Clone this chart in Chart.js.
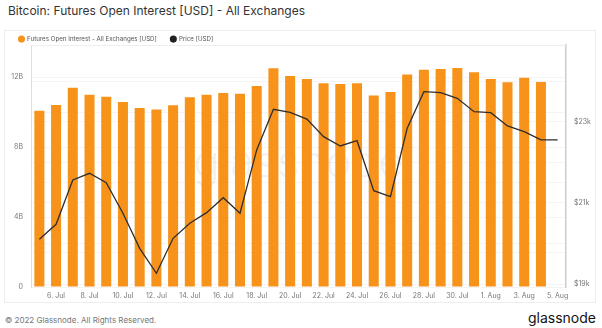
<!DOCTYPE html>
<html>
<head>
<meta charset="utf-8">
<script src="https://cdn.jsdelivr.net/npm/chart.js@4"></script>
<style>
    body { margin: 0; width: 602px; height: 328px; background: #fff; font-family: Inter, "Open Sans", sans-serif; position: relative; overflow: hidden; }
    #title { position: absolute; left: 8px; top: 3px; font-size: 12px; line-height: 16px; color: #333; }
    #box { position: absolute; left: 4px; top: 30px; width: 592px; height: 273px; box-sizing: border-box; border: 1px solid #eeeeee; }
    #box canvas { display: block; }
    #copy { position: absolute; left: 5px; top: 314px; font-size: 8px; line-height: 12px; color: #777; }
    #logo { position: absolute; right: 6px; top: 309px; font-size: 14px; line-height: 18px; color: #111; }
</style>
</head>
<body>
<div id="title">Bitcoin: Futures Open Interest [USD] - All Exchanges</div>
<div id="box"><canvas id="chart" width="590" height="271"></canvas></div>
<div id="copy">© 2022 Glassnode. All Rights Reserved.</div>
<div id="logo">glassnode</div>
<script>
document.addEventListener('DOMContentLoaded', () => {
    "use strict";

    // days on the x axis (5 Jul - 5 Aug 2022)
    const days = ['5. Jul', '6. Jul', '7. Jul', '8. Jul', '9. Jul', '10. Jul', '11. Jul', '12. Jul',
        '13. Jul', '14. Jul', '15. Jul', '16. Jul', '17. Jul', '18. Jul', '19. Jul', '20. Jul',
        '21. Jul', '22. Jul', '23. Jul', '24. Jul', '25. Jul', '26. Jul', '27. Jul', '28. Jul',
        '29. Jul', '30. Jul', '31. Jul', '1. Aug', '2. Aug', '3. Aug', '4. Aug', '5. Aug'];

    // futures open interest, billions USD (no bar for 5 Aug)
    const openInterest = [10.07, 10.4, 11.39, 10.99, 10.87, 10.57, 10.23, 10.15,
        10.38, 10.84, 10.99, 11.09, 11.05, 11.49, 12.5, 12.06,
        11.89, 11.64, 11.6, 11.64, 10.95, 11.14, 12.15, 12.42,
        12.46, 12.51, 12.27, 11.89, 11.7, 11.96, 11.71, null];

    // BTC price, USD
    const price = [20104, 20474, 21568, 21733, 21501, 20746, 19881, 19264,
        20128, 20499, 20761, 21131, 20746, 22309, 23313, 23239,
        23070, 22637, 22407, 22538, 21304, 21156, 22844, 23748,
        23724, 23585, 23254, 23230, 22901, 22761, 22556, 22556];

    const leftTicks = [0, 2, 4, 6, 8, 10, 12];
    const rightTicks = [19000, 20000, 21000, 22000, 23000, 24000];

    const tickFont = { family: 'Inter', size: 7 };

    // watermark + top border of the plot
    const decor = {
        id: 'decor',
        beforeDatasetsDraw(chart) {
            const { ctx, chartArea: a } = chart;
            ctx.save();
            ctx.font = '300 44px Inter';
            ctx.fillStyle = 'rgba(0,0,0,0.05)';
            ctx.textAlign = 'center';
            ctx.textBaseline = 'alphabetic';
            ctx.fillText('glassnode', (a.left + a.right) / 2, 146);
            ctx.restore();
        },
        afterDraw(chart) {
            const { ctx, chartArea: a } = chart;
            ctx.save();
            ctx.strokeStyle = '#eeeeee';
            ctx.lineWidth = 1;
            ctx.beginPath();
            ctx.moveTo(a.left, a.top + 0.5);
            ctx.lineTo(a.right, a.top + 0.5);
            ctx.stroke();
            ctx.restore();
        }
    };

    // legend takes 14px of layout, then gets lifted so its row sits near the top
    const legendPlace = {
        id: 'legendPlace',
        beforeInit(chart) {
            const fit = chart.legend.fit;
            chart.legend.fit = function () {
                fit.bind(chart.legend)();
                this.height = 14;
            };
        },
        afterLayout(chart) {
            chart.legend.top = -9;
        }
    };

    const baseLabels = Chart.defaults.plugins.legend.labels.generateLabels;

    new Chart(document.getElementById('chart'), {
        type: 'bar',
        data: {
            labels: days,
            datasets: [{
                label: 'Futures Open Interest - All Exchanges [USD]',
                data: openInterest,
                backgroundColor: '#f7931a',
                borderWidth: 0,
                categoryPercentage: 1,
                barPercentage: 0.6,
                yAxisID: 'y',
                order: 2
            }, {
                type: 'line',
                label: 'Price [USD]',
                data: price,
                borderColor: '#2e2e2e',
                backgroundColor: '#222',
                borderWidth: 1.3,
                pointRadius: 0,
                tension: 0,
                yAxisID: 'y1',
                order: 1
            }]
        },
        options: {
            responsive: false,
            animation: false,
            plugins: {
                title: { display: false },
                tooltip: { enabled: false },
                legend: {
                    display: true,
                    position: 'top',
                    align: 'start',
                    labels: {
                        usePointStyle: true,
                        pointStyle: 'circle',
                        boxWidth: 5,
                        boxHeight: 5,
                        padding: 14,
                        color: '#555',
                        font: { family: 'Inter', size: 6.2 },
                        generateLabels: chart => baseLabels(chart).map(l => {
                            l.lineWidth = 0;
                            l.strokeStyle = 'rgba(0,0,0,0)';
                            return l;
                        }),
                        sort: (a, b) => a.datasetIndex - b.datasetIndex
                    }
                }
            },
            scales: {
                x: {
                    offset: true,
                    grid: { display: false, drawTicks: false },
                    border: { display: false },
                    ticks: {
                        autoSkip: false,
                        maxRotation: 0,
                        color: '#777',
                        font: tickFont,
                        padding: 5,
                        callback: (v, i) => (i % 2 === 1 ? days[i] : '')
                    },
                    afterFit: s => { s.height = 15; }
                },
                y: {
                    position: 'left',
                    min: 0,
                    max: 13.83,
                    grid: { color: '#f4f4f4', drawTicks: false },
                    border: { display: true, color: 'rgba(247,147,26,0.35)', width: 1 },
                    afterBuildTicks: s => { s.ticks = leftTicks.map(v => ({ value: v })); },
                    ticks: {
                        color: '#777',
                        font: tickFont,
                        padding: 8,
                        callback: v => (v % 4 === 0 ? (v === 0 ? '0' : v + 'B') : '')
                    },
                    afterFit: s => { s.width = 26; }
                },
                y1: {
                    position: 'right',
                    min: 18926,
                    max: 24900,
                    grid: { color: '#f4f4f4', drawTicks: false },
                    border: { display: true, color: '#cccccc', width: 1.5 },
                    afterBuildTicks: s => { s.ticks = rightTicks.map(v => ({ value: v })); },
                    ticks: {
                        color: '#777',
                        font: tickFont,
                        padding: 8,
                        callback: v => ((v - 19000) % 2000 === 0 ? '$' + (v / 1000) + 'k' : '')
                    },
                    afterFit: s => { s.width = 29; }
                }
            }
        },
        plugins: [decor, legendPlace]
    });
});
</script>
</body>
</html>
